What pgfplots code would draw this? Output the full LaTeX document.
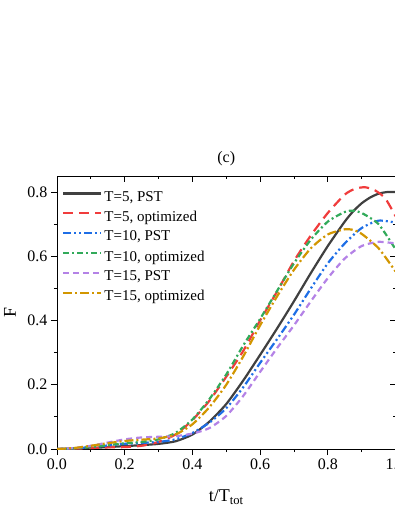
\documentclass[border=0pt]{standalone}
\usepackage{fontspec}
\setmainfont{Liberation Serif}
\usepackage{pgfplots}
\pgfplotsset{compat=1.18}
\definecolor{cblack}{RGB}{64,64,64}
\definecolor{cred}{RGB}{240,60,60}
\definecolor{cblue}{RGB}{30,110,230}
\definecolor{cgreen}{RGB}{50,170,90}
\definecolor{cpurple}{RGB}{180,130,230}
\definecolor{corange}{RGB}{210,150,0}
\newcommand{\fs}{\fontsize{15}{18}\selectfont}
\newcommand{\ft}{\fontsize{16}{19}\selectfont}
\newcommand{\fl}{\fontsize{18}{21}\selectfont}
\pgfplotsset{
  common/.style={
    at={(0pt,0pt)}, anchor=south west,
    scale only axis, width=338.5pt, height=273pt,
    xmin=0, xmax=1, ymin=0, ymax=0.85,
    xtick={0,0.2,...,1.0}, ytick={0,0.2,...,0.8},
    minor tick num=1,
    major tick length=6pt, minor tick length=3pt,
    every tick/.style={line width=0.9pt, black},
    axis line style={line width=0.9pt},
    /pgf/number format/assume math mode=true,
    tick label style={font=\ft},
    xticklabel style={/pgf/number format/.cd, fixed, fixed zerofill, precision=1},
    yticklabel style={/pgf/number format/.cd, fixed, fixed zerofill, precision=1},
  },
}
\begin{document}
\begin{tikzpicture}
% top / right: inward ticks, no labels
\begin{axis}[common,
  axis x line*=top, axis y line*=right,
  tick align=inside, xticklabels={}, yticklabels={}]
\end{axis}
\begin{axis}[common,
  axis x line*=bottom, axis y line*=left,
  tick align=outside,
  xlabel={t/T\textsubscript{tot}}, ylabel={F},
  label style={font=\fl},
  xlabel style={at={(axis description cs:0.5,-0.194)}, anchor=base},
  ylabel style={at={(axis description cs:-0.139,0.5)}, anchor=center},
  title={(c)}, title style={font=\ft, at={(axis description cs:0.5,1)}, anchor=base, yshift=8pt},
  legend style={at={(axis description cs:0,1)}, anchor=north west,
    xshift=5pt, yshift=-13pt, draw=none, fill=none, font=\fs,
    inner sep=0pt, row sep=4.2pt, cells={anchor=west}},
  legend cell align=left,
  legend image code/.code={\draw[#1] (0pt,3.5pt) -- (38pt,3.5pt);},
  every axis plot/.append style={line width=2.2pt, smooth, tension=0.4},
]
\addplot[cblack] coordinates {
(0,0) (0.05,0.001) (0.1,0.003) (0.15,0.006) (0.2,0.009) (0.25,0.012) (0.3,0.016)
(0.35,0.024) (0.4,0.045) (0.45,0.085) (0.5,0.14) (0.55,0.213) (0.6,0.293)
(0.65,0.375) (0.7,0.46) (0.75,0.548) (0.8,0.632) (0.85,0.708) (0.875,0.740)
(0.9,0.765) (0.925,0.783) (0.95,0.795) (0.975,0.800) (1.0,0.800)};
\addlegendentry{T=5, PST}
\addplot[cred, dash pattern=on 10pt off 6pt] coordinates {
(0,0) (0.05,0.001) (0.1,0.003) (0.15,0.005) (0.2,0.006) (0.25,0.010) (0.3,0.022)
(0.35,0.045) (0.4,0.09) (0.45,0.15) (0.5,0.225) (0.55,0.305) (0.6,0.40)
(0.65,0.49) (0.7,0.585) (0.75,0.665) (0.8,0.735) (0.85,0.792) (0.88,0.810)
(0.91,0.815) (0.94,0.805) (0.97,0.78) (1.0,0.725)};
\addlegendentry{T=5, optimized}
\addplot[cblue, dash pattern=on 8pt off 3pt on 2pt off 3pt on 2pt off 3pt] coordinates {
(0,0) (0.05,0.002) (0.1,0.006) (0.15,0.011) (0.2,0.016) (0.25,0.019) (0.3,0.022)
(0.35,0.03) (0.4,0.05) (0.45,0.082) (0.5,0.127) (0.55,0.192) (0.6,0.268)
(0.65,0.342) (0.7,0.418) (0.75,0.50) (0.8,0.578) (0.85,0.64) (0.9,0.688)
(0.95,0.711) (1.0,0.705)};
\addlegendentry{T=10, PST}
\addplot[cgreen, dash pattern=on 6pt off 3pt on 2pt off 3pt] coordinates {
(0,0) (0.05,0.002) (0.1,0.006) (0.15,0.012) (0.2,0.018) (0.25,0.022) (0.3,0.03)
(0.35,0.05) (0.4,0.092) (0.45,0.155) (0.5,0.232) (0.55,0.322) (0.6,0.405)
(0.65,0.492) (0.7,0.578) (0.75,0.652) (0.8,0.708) (0.85,0.738) (0.875,0.742)
(0.9,0.735) (0.95,0.70) (1.0,0.622)};
\addlegendentry{T=10, optimized}
\addplot[cpurple, dash pattern=on 6pt off 4pt] coordinates {
(0,0) (0.05,0.003) (0.1,0.01) (0.15,0.02) (0.2,0.03) (0.25,0.036) (0.3,0.038)
(0.35,0.04) (0.4,0.048) (0.45,0.065) (0.5,0.103) (0.55,0.165) (0.6,0.24)
(0.65,0.314) (0.7,0.385) (0.75,0.46) (0.8,0.532) (0.85,0.593) (0.9,0.632)
(0.95,0.645) (1.0,0.64)};
\addlegendentry{T=15, PST}
\addplot[corange, dash pattern=on 9pt off 3pt on 2pt off 3pt] coordinates {
(0,0) (0.05,0.003) (0.1,0.01) (0.15,0.018) (0.2,0.025) (0.25,0.029) (0.3,0.033)
(0.35,0.045) (0.4,0.077) (0.45,0.13) (0.5,0.2) (0.55,0.288) (0.6,0.385)
(0.65,0.475) (0.7,0.558) (0.75,0.625) (0.8,0.668) (0.85,0.684) (0.875,0.682)
(0.9,0.670) (0.95,0.625) (1.0,0.553)};
\addlegendentry{T=15, optimized}
\end{axis}
\pgfresetboundingbox
\path[use as bounding box] (-57pt,-62pt) rectangle (338pt,449pt);
\end{tikzpicture}
\end{document}
